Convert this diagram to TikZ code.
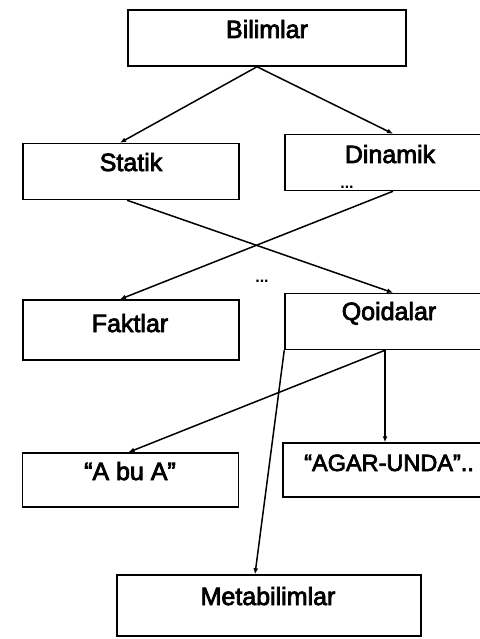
\documentclass[tikz,border=0pt]{standalone}
\usepackage{fontspec}
\setmainfont{Liberation Sans}
\newfontfamily\lblfont{Liberation Sans}[FakeBold=3]
\usetikzlibrary{arrows.meta}
\tikzset{
  box/.style={draw, line width=1.5pt, inner sep=0pt, minimum width=216pt, minimum height=56pt},
  lbl/.style={inner sep=0pt, anchor=base, font=\lblfont\fontsize{25}{29}\selectfont},
  dots/.style={inner sep=0pt, anchor=base, font=\fontsize{16}{18}\selectfont\bfseries},
  conn/.style={line width=1.5pt, -{Latex[length=6pt,width=5pt]}}
}
\begin{document}
\begin{tikzpicture}[x=1pt,y=-1pt]
\useasboundingbox (0,0) rectangle (479,639);
% boxes
\node[box, minimum width=278pt] (bil) at (267,38) {};
\node[box] (stat) at (131,171.5) {};
\node[box] (dyn) at (393,162.5) {};
\node[box, minimum height=60pt] (fak) at (131,330) {};
\node[box] (qoi) at (393,321.5) {};
\node[box, minimum height=54pt] (abu) at (130.5,480) {};
\node[box, minimum height=54pt] (agar) at (391,470) {};
\node[box, minimum width=304pt, minimum height=61pt] (meta) at (269,605.5) {};
% labels
\node[lbl] (bilT) at (267,38) {Bilimlar};
\node[lbl] (statT) at (131,171) {Statik};
\node[lbl] (dynT) at (390,163) {Dinamik};
\node[lbl] (fakT) at (130,332) {Faktlar};
\node[lbl] (qoiT) at (389,320) {Qoidalar};
\node[lbl] (abuT) at (130,480) {“A bu A”};
\node[lbl, anchor=base west, font=\lblfont\fontsize{23.5}{27}\selectfont] (agarT) at (304,471) {“AGAR-UNDA”..};
\node[lbl] (metaT) at (268,605) {Metabilimlar};
\node[dots] (d1) at (262,282) {...};
\node[dots] (d2) at (347,189) {...};
% connectors
\draw[conn] ([xshift=-10pt]bil.south) -- ([xshift=-11pt]stat.north);
\draw[conn] ([xshift=-10pt]bil.south) -- (dyn.north);
\draw[conn] ([xshift=-4pt]stat.south) -- (qoi.north);
\draw[conn] (dyn.south) -- ([xshift=-11pt]fak.north);
\draw[conn] ([xshift=-8pt]qoi.south) -- ([xshift=-2pt]abu.north);
\draw[conn] ([xshift=-8pt]qoi.south) -- ([xshift=-6pt]agar.north);
\draw[conn] (qoi.south west) -- ([xshift=-14pt]meta.north);
\end{tikzpicture}
\end{document}
